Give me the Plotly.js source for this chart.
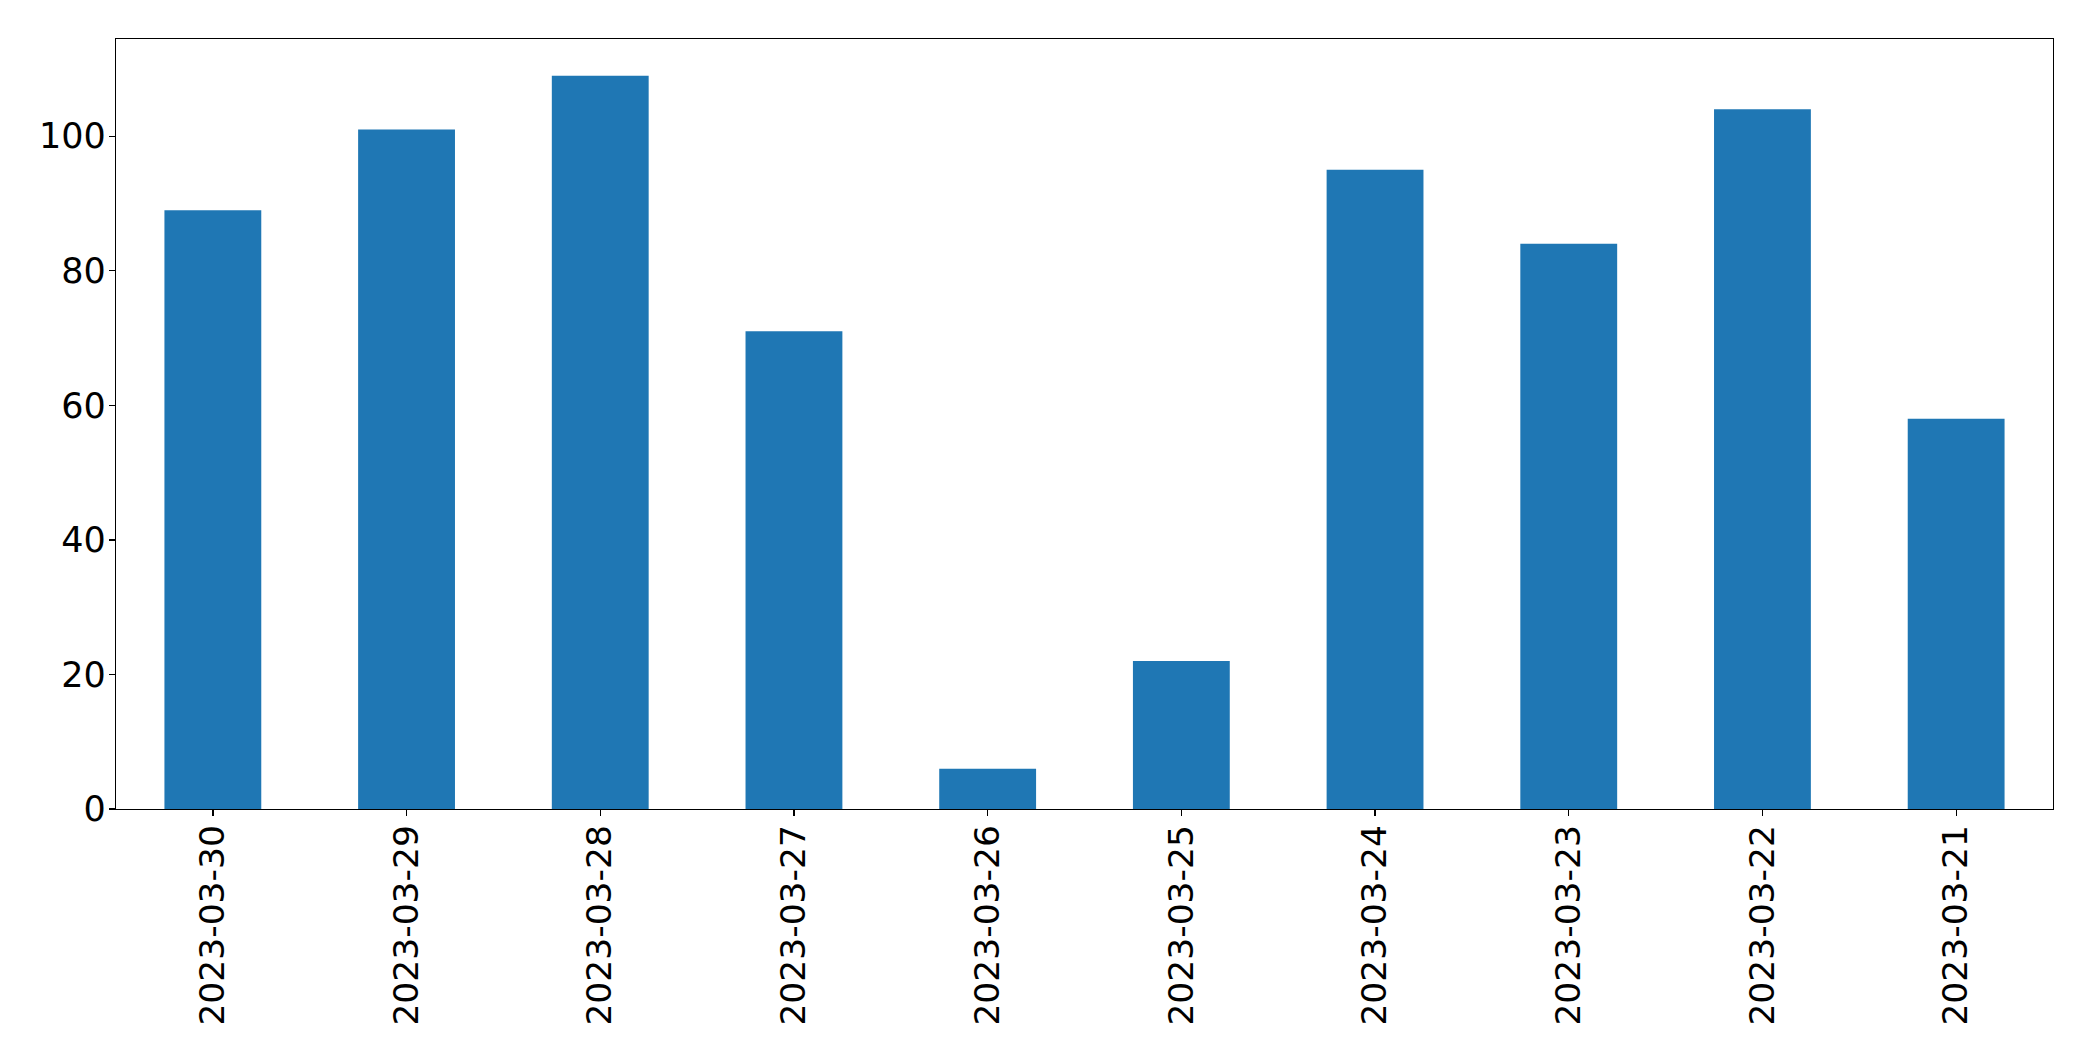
<!DOCTYPE html>
<html>
<head>
<meta charset="utf-8">
<script src="https://cdn.plot.ly/plotly-3.0.1.min.js"></script>
<style>html,body{margin:0;padding:0;background:#fff;}#chart{width:2093px;height:1061px;}</style>
</head>
<body>
<div id="chart"></div>
<script>
const categories = ["2023-03-30","2023-03-29","2023-03-28","2023-03-27","2023-03-26","2023-03-25","2023-03-24","2023-03-23","2023-03-22","2023-03-21"];
const values = [89, 101, 109, 71, 6, 22, 95, 84, 104, 58];
const yTicks = [0, 20, 40, 60, 80, 100];

const trace = {
  type: "bar",
  x: categories,
  y: values,
  marker: {color: "#1f77b4", line: {width: 0}},
  width: 0.5,
  hoverinfo: "x+y"
};

const layout = {
  width: 2093,
  height: 1061,
  margin: {l: 116, r: 40, t: 39, b: 252, pad: 0},
  paper_bgcolor: "#ffffff",
  plot_bgcolor: "#ffffff",
  showlegend: false,
  font: {family: "DejaVu Sans", size: 35, color: "#000000"},
  xaxis: {
    type: "category",
    range: [-0.5, 9.5],
    tickangle: -90,
    ticks: "outside",
    ticklen: 6,
    tickwidth: 1.3,
    tickcolor: "#000",
    showline: true,
    mirror: true,
    linecolor: "#000",
    linewidth: 1.3,
    showgrid: false,
    zeroline: false,
    ticklabelstandoff: -5,
    tickfont: {family: "DejaVu Sans", size: 34.5, color: "#000"}
  },
  yaxis: {
    range: [0, 114.45],
    tickvals: yTicks,
    ticktext: yTicks.map(String),
    ticks: "outside",
    ticklen: 6,
    tickwidth: 1.3,
    tickcolor: "#000",
    showline: true,
    mirror: true,
    linecolor: "#000",
    linewidth: 1.3,
    showgrid: false,
    zeroline: false,
    ticklabelstandoff: -4,
    tickfont: {family: "DejaVu Sans", size: 35, color: "#000"}
  }
};

Plotly.newPlot("chart", [trace], layout, {displayModeBar: false, staticPlot: true});
</script>
</body>
</html>
